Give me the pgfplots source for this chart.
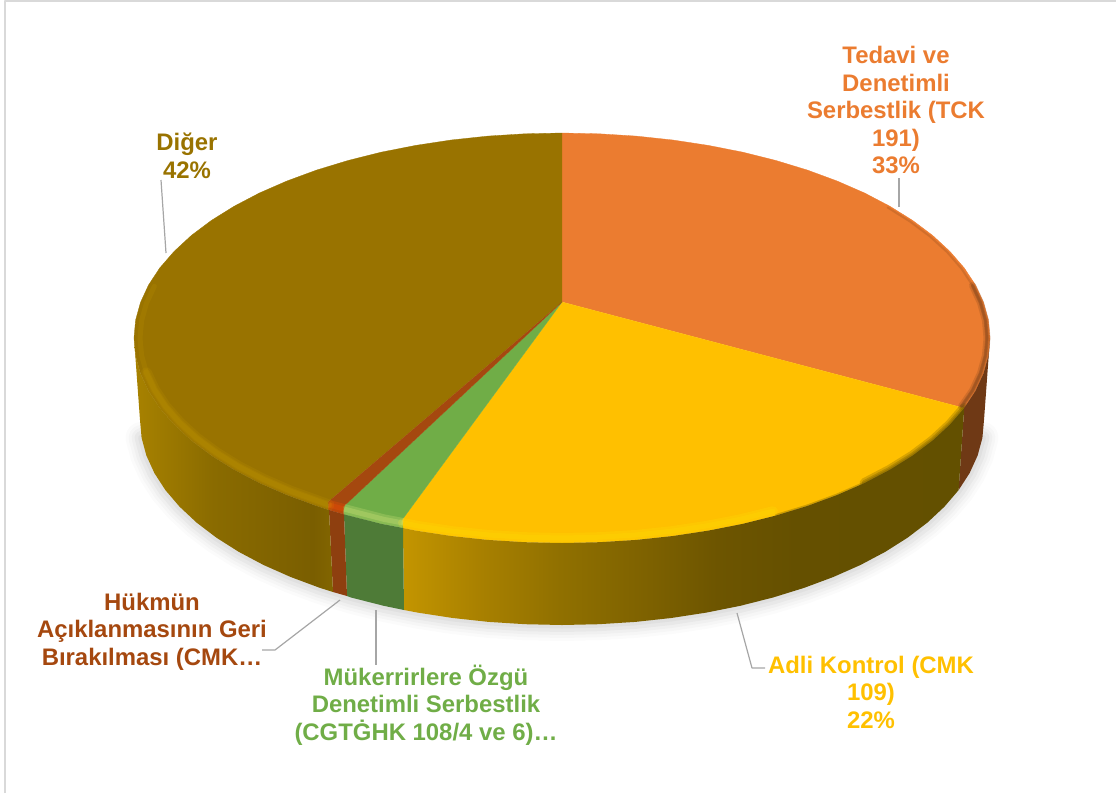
\documentclass[border=0pt]{standalone}
\usepackage{pgfplots}
\usepackage{pgfplotstable}
\usepackage{fontspec}
\setmainfont{Liberation Sans}
\pgfplotsset{compat=1.18}

\definecolor{cOrange}{HTML}{EB7C30}
\definecolor{cGold}{HTML}{FFC000}
\definecolor{cGreen}{HTML}{70AD47}
\definecolor{cBrick}{HTML}{A5480F}
\definecolor{cDiger}{HTML}{997300}
\definecolor{cLead}{HTML}{A6A6A6}
\definecolor{sOrange}{HTML}{6F3915}
\definecolor{sGreen}{HTML}{4E7B37}
\definecolor{sBrick}{HTML}{8E3F0F}
\definecolor{rimD}{HTML}{E0B000}

\tikzset{lab/.style={font=\fontsize{23.9}{27.5}\selectfont\bfseries, align=center, inner sep=0pt, anchor=center}}

% side wall shadings, stops between 25bp and 75bp span the polygon
\definecolor{d0}{HTML}{A88200}
\definecolor{d1}{HTML}{8A6B00}
\definecolor{d2}{HTML}{7A5E00}
\definecolor{d3}{HTML}{826500}
\pgfdeclarehorizontalshading{digerside}{100bp}{color(0bp)=(d0);color(25bp)=(d0);color(45bp)=(d1);color(70bp)=(d2);color(75bp)=(d3);color(100bp)=(d3)}
\definecolor{y0}{HTML}{C39500}
\definecolor{y1}{HTML}{A88000}
\definecolor{y2}{HTML}{907000}
\definecolor{y3}{HTML}{7D6100}
\definecolor{y4}{HTML}{6D5500}
\definecolor{y5}{HTML}{655000}
\definecolor{y6}{HTML}{635000}
\pgfdeclarehorizontalshading{goldside}{100bp}{color(0bp)=(y0);color(25bp)=(y0);color(32bp)=(y1);color(39bp)=(y2);color(47bp)=(y3);color(53bp)=(y4);color(60bp)=(y5);color(75bp)=(y6);color(100bp)=(y6)}

% top face, pixel coordinates of the picture
\pgfplotstableread{
x y
562 302
562 133
599.3 133.8
636.3 136.1
672.8 140
708.4 145.4
742.9 152.2
776 160.5
807.5 170.1
837.1 181
864.6 193
889.8 206.2
912.6 220.4
932.7 235.5
949.9 251.4
964.2 267.9
975.4 284.9
983.5 302.4
988.4 320.1
990 338
988.4 355.9
983.5 373.6
975.4 391.1
964.2 408.1
}\faceOrange
\pgfplotstableread{
x y
562 302
964.2 408.1
949.9 424.6
932.7 440.5
912.6 455.6
889.8 469.8
864.6 483
837.1 495
807.5 505.9
776 515.5
742.9 523.8
708.4 530.6
672.8 536
636.3 539.9
599.3 542.2
562 543
524.7 542.2
487.7 539.9
451.2 536
415.6 530.6
403 528
402 520
}\faceGold
\pgfplotstableread{
x y
562 302
402 520
403 528
381.1 523.8
344 514.4
343 507
}\faceGreen
\pgfplotstableread{
x y
562 302
343 507
344 514.4
329 510
328 502
}\faceBrick
\pgfplotstableread{
x y
562 302
328 502
329 510
316.5 505.9
286.9 495
259.4 483
234.2 469.8
211.4 455.6
191.3 440.5
174.1 424.6
159.8 408.1
148.6 391.1
140.5 373.6
135.6 355.9
134 338
135.6 320.1
140.5 302.4
148.6 284.9
159.8 267.9
174.1 251.4
191.3 235.5
211.4 220.4
234.2 206.2
259.4 193
286.9 181
316.5 170.1
348 160.5
381.1 152.2
415.6 145.4
451.2 140
487.7 136.1
524.7 133.8
562 133
}\faceDiger

% side walls
\pgfplotstableread{
x y
990 338
988.4 355.9
983.5 373.6
975.4 391.1
964.2 408.1
958.6 490.1
969.6 473.1
977.6 455.6
982.4 437.9
984 420
}\sideOrange
\pgfplotstableread{
x y
964.2 408.1
949.9 424.6
932.7 440.5
912.6 455.6
889.8 469.8
864.6 483
837.1 495
807.5 505.9
776 515.5
742.9 523.8
708.4 530.6
672.8 536
636.3 539.9
599.3 542.2
562 543
524.7 542.2
487.7 539.9
451.2 536
415.6 530.6
403 528
404 610
417.7 612.6
452.8 618
488.7 621.9
525.2 624.2
562 625
598.8 624.2
635.3 621.9
671.2 618
706.3 612.6
740.3 605.8
773 597.5
804 587.9
833.3 577
860.4 565
885.3 551.8
907.7 537.6
927.5 522.5
944.5 506.6
958.6 490.1
}\sideGold
\pgfplotstableread{
x y
403 528
381.1 523.8
344 514.4
347 596
351 597.5
383.7 605.8
404 610
}\sideGreen
\pgfplotstableread{
x y
344 514.4
329 510
333 592
347 596
}\sideBrick
\pgfplotstableread{
x y
329 510
316.5 505.9
286.9 495
259.4 483
234.2 469.8
211.4 455.6
191.3 440.5
174.1 424.6
159.8 408.1
148.6 391.1
140.5 373.6
135.6 355.9
134 338
140 420
141.6 437.9
146.4 455.6
154.4 473.1
165.4 490.1
179.5 506.6
196.5 522.5
216.3 537.6
238.7 551.8
263.6 565
290.7 577
320 587.9
333 592
}\sideDiger

% bevel highlight along the front rim
\pgfplotstableread{
x y
329 505
290.7 491.2
263.6 479.4
238.7 466.6
216.3 452.7
196.5 438
179.5 422.5
165.4 406.4
154.4 389.8
146.4 372.7
141.6 355.4
140 338
141.6 320.6
146.4 303.3
154.4 286.2
}\rimDiger
\pgfplotstableread{
x y
329 505
290.7 491.2
263.6 479.4
238.7 466.6
216.3 452.7
196.5 438
179.5 422.5
165.4 406.4
154.4 389.8
146.4 372.7
}\rimDigerLow
\pgfplotstableread{
x y
344 509
329 505
}\rimBrick
\pgfplotstableread{
x y
403 523
383.7 519.3
344 509
}\rimGreen
\pgfplotstableread{
x y
773 511.2
740.3 519.3
706.3 525.9
671.2 531.2
635.3 535
598.8 537.2
562 538
525.2 537.2
488.7 535
452.8 531.2
417.7 525.9
403 523
}\rimGold
\pgfplotstableread{
x y
964.2 408.1
949.9 424.6
932.7 440.5
912.6 455.6
889.8 469.8
864.6 483
837.1 495
807.5 505.9
776 515.5
}\rimGoldDark
\pgfplotstableread{
x y
964.2 408.1
949.9 424.6
932.7 440.5
912.6 455.6
889.8 469.8
864.6 483
}\rimGoldDarkNear
\pgfplotstableread{
x y
887.6 207.5
910.1 221.6
930 236.5
947.2 252.2
961.4 268.6
972.5 285.5
980.5 302.7
985.4 320.3
987 338
985.4 355.7
980.5 373.3
972.5 390.5
961.4 406.6
}\rimOrangeDark
\pgfplotstableread{
x y
972.5 285.5
980.5 302.7
985.4 320.3
987 338
985.4 355.7
980.5 373.3
972.5 390.5
961.4 406.6
}\rimOrangeNear

% drop shadow under the lower edge
\pgfplotstableread{
x y
982.4 437.9
977.6 455.6
969.6 473.1
958.6 490.1
944.5 506.6
927.5 522.5
907.7 537.6
885.3 551.8
860.4 565
833.3 577
804 587.9
773 597.5
740.3 605.8
706.3 612.6
671.2 618
635.3 621.9
598.8 624.2
562 625
525.2 624.2
488.7 621.9
452.8 618
417.7 612.6
383.7 605.8
351 597.5
320 587.9
290.7 577
263.6 565
238.7 551.8
216.3 537.6
196.5 522.5
179.5 506.6
165.4 490.1
154.4 473.1
146.4 455.6
141.6 437.9
}\shadowEdge

\begin{document}
\begin{tikzpicture}
\begin{axis}[
  scale only axis,
  width=1116pt, height=793pt,
  xmin=0, xmax=1116, ymin=0, ymax=793,
  y dir=reverse,
  hide axis,
  no markers,
  every axis plot/.append style={line join=round},
]
% frame
\addplot[color=black!15, line width=2pt] coordinates {(5,793) (5,1) (1116,1)};

% shadow
\addplot[color=black, opacity=0.015, line cap=round, line width=32pt] table {\shadowEdge};
\addplot[color=black, opacity=0.02, line cap=round, line width=26pt] table {\shadowEdge};
\addplot[color=black, opacity=0.025, line cap=round, line width=20pt] table {\shadowEdge};
\addplot[color=black, opacity=0.03, line cap=round, line width=14pt] table {\shadowEdge};
\addplot[color=black, opacity=0.035, line cap=round, line width=7pt] table {\shadowEdge};

% top face
\addplot[fill=cOrange, draw=cOrange, line width=0.3pt] table {\faceOrange};
\addplot[fill=cGold, draw=cGold, line width=0.3pt] table {\faceGold};
\addplot[fill=cDiger, draw=cDiger, line width=0.3pt] table {\faceDiger};
\addplot[fill=cGreen, draw=cGreen, line width=0.3pt] table {\faceGreen};
\addplot[fill=cBrick, draw=cBrick, line width=0.3pt] table {\faceBrick};

% bevel
\addplot[color=cOrange!45!black, opacity=0.2, line cap=round, line width=2pt] table {\rimOrangeDark};
\addplot[color=cOrange!45!black, opacity=0.2, line cap=round, line width=7pt] table {\rimOrangeNear};
\addplot[color=cOrange!45!black, opacity=0.3, line cap=round, line width=3.5pt] table {\rimOrangeNear};
\addplot[color=y5, opacity=0.3, line cap=round, line width=3pt] table {\rimGoldDark};
\addplot[color=y5, opacity=0.3, line cap=round, line width=6pt] table {\rimGoldDarkNear};
\addplot[color=y5, opacity=0.25, line cap=round, line width=10pt] table {\rimGoldDarkNear};
\addplot[color=yellow!80!orange, opacity=0.25, line cap=round, line width=10pt] table {\rimGold};
\addplot[color=yellow!80!orange, opacity=0.25, line cap=round, line width=5pt] table {\rimGold};
\addplot[color=cGreen!50!yellow!60!white, opacity=0.25, line width=10pt] table {\rimGreen};
\addplot[color=cGreen!50!yellow!60!white, opacity=0.3, line width=5pt] table {\rimGreen};
\addplot[color=orange!60!red, opacity=0.25, line width=10pt] table {\rimBrick};
\addplot[color=orange!60!red, opacity=0.25, line width=5pt] table {\rimBrick};
\addplot[color=rimD, opacity=0.1, line cap=round, line width=5pt] table {\rimDiger};
\addplot[color=rimD, opacity=0.1, line cap=round, line width=11pt] table {\rimDigerLow};
\addplot[color=rimD, opacity=0.1, line cap=round, line width=7pt] table {\rimDigerLow};

% side walls
\addplot[fill=sOrange, draw=none] table {\sideOrange};
\addplot[shading=goldside, draw=none] table {\sideGold};
\addplot[fill=sGreen, draw=none] table {\sideGreen};
\addplot[fill=sBrick, draw=none] table {\sideBrick};
\addplot[shading=digerside, draw=none] table {\sideDiger};

% leader lines
\addplot[color=cLead, line width=1.2pt] coordinates {(899,178) (899,207)};
\addplot[color=cLead, line width=1.2pt] coordinates {(161,180) (166,253)};
\addplot[color=cLead, line width=1.2pt] coordinates {(340,600) (275,650) (262,650)};
\addplot[color=cLead, line width=1.2pt] coordinates {(376,610) (376,665)};
\addplot[color=cLead, line width=1.2pt] coordinates {(737,613) (752,668) (765,668)};

% labels
\node[lab, text=cOrange] at (axis cs:896,110) {Tedavi ve\\Denetimli\\Serbestlik (TCK\\191)\\33\%};
\node[lab, text=cDiger] at (axis cs:187,156) {Diğer\\42\%};
\node[lab, text=cBrick] at (axis cs:152,631.5) {Hükmün\\Açıklanmasının Geri\\Bırakılması (CMK…};
\node[lab, text=cGreen] at (axis cs:426,705) {Mükerrirlere Özgü\\Denetimli Serbestlik\\(CGTĠHK 108/4 ve 6)…};
\node[lab, text=cGold] at (axis cs:871,692) {Adli Kontrol (CMK\\109)\\22\%};
\end{axis}
\pgfresetboundingbox
\path[use as bounding box] (0,0) rectangle (1116pt,793pt);
\end{tikzpicture}
\end{document}
